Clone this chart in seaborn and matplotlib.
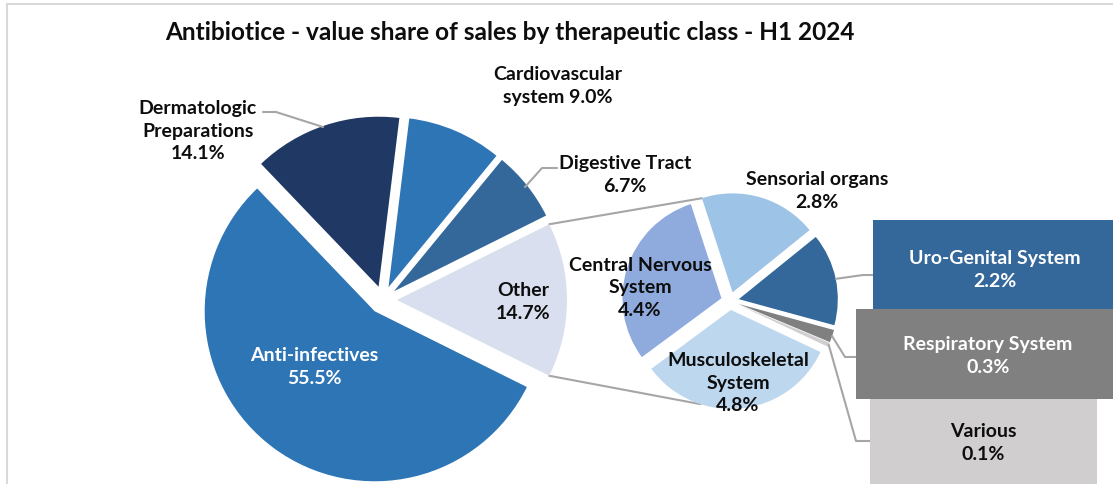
import numpy as np
import matplotlib
matplotlib.use("Agg")
import matplotlib.pyplot as plt
import seaborn as sns
from matplotlib.patches import Rectangle

# ---------------- data ----------------
title = "Antibiotice - value share of sales by therapeutic class - H1 2024"

main_names = ["Other", "Digestive Tract", "Cardiovascular\nsystem", "Dermatologic\nPreparations", "Anti-infectives"]
main_values = [14.7, 6.7, 9.0, 14.1, 55.5]
main_colors = ["#DADFEF", "#34679A", "#2E75B6", "#203864", "#2E75B6"]

sec_names = ["Sensorial organs", "Uro-Genital System", "Respiratory System", "Various",
             "Musculoskeletal\nSystem", "Central Nervous\nSystem"]
sec_values = [2.8, 2.2, 0.3, 0.1, 4.8, 4.4]
sec_colors = ["#9DC3E6", "#34679A", "#808080", "#D0CECE", "#BDD7EE", "#8FAADC"]

# ---------------- style ----------------
sns.set_theme(style="white")
plt.rcParams['font.family'] = ['Lato', 'DejaVu Sans']
plt.rcParams['font.weight'] = 'bold'

W, H = 1113, 484
fig = plt.figure(figsize=(W / 100, H / 100), dpi=100)
ax = fig.add_axes([0, 0, 1, 1])

def Y(y):
    return H - y

LBL = 14
LS = 1.4
TXT = "#0D0D0D"
LINE = "#A6A6A6"

# main pie
C1 = (383, Y(300))
R1 = 170
start1 = -main_values[0] / sum(main_values) * 360 / 2
w1, _ = ax.pie(main_values, colors=main_colors, startangle=start1, counterclock=True,
               center=C1, radius=R1, explode=[14] * len(main_values), frame=True,
               wedgeprops=dict(linewidth=0))

# secondary pie
C2 = (730, Y(301))
R2 = 99
w2, _ = ax.pie(sec_values, colors=sec_colors, startangle=108, counterclock=False,
               center=C2, radius=R2, explode=[9] * len(sec_values), frame=True,
               wedgeprops=dict(linewidth=0))

def arc_pt(w, ang):
    cx, cy = w.center
    a = np.deg2rad(ang)
    return cx + w.r * np.cos(a), cy + w.r * np.sin(a)

# connector lines between pies
other = w1[0]
p_top = arc_pt(other, other.theta2)
p_bot = arc_pt(other, other.theta1)
q_top = arc_pt(w2[0], w2[0].theta2)
q_bot = arc_pt(w2[4], -w2[0].theta2)
ax.plot([p_top[0], q_top[0]], [p_top[1], q_top[1]], color=LINE, lw=1.5, zorder=0)
ax.plot([p_bot[0], q_bot[0]], [p_bot[1], q_bot[1]], color=LINE, lw=1.5, zorder=0)

def lab(name, v):
    return f"{name}\n{v:.1f}%"

def put(x, y, s, c=TXT, z=3):
    ax.text(x, Y(y), s, color=c, fontsize=LBL, ha="center", va="center",
            linespacing=LS, zorder=z)

# main pie labels
put(314, 367, lab(main_names[4], main_values[4]), "white")
put(523, 302, lab(main_names[0], main_values[0]))
put(198, 131, lab(main_names[3], main_values[3]))
put(558, 86, f"{main_names[2]} {main_values[2]:.1f}%")
put(625, 175, lab(main_names[1], main_values[1]))

# leader lines main
ax.plot([263, 276, 323], [Y(112), Y(112), Y(127)], color=LINE, lw=1.5)
ax.plot([557, 542, 525], [Y(168), Y(168), Y(187)], color=LINE, lw=1.5)

# secondary labels
put(817, 191, lab(sec_names[0], sec_values[0]))
put(640, 288, lab(sec_names[5], sec_values[5]))
put(738, 383, lab(sec_names[4], sec_values[4]))

# boxed labels
boxes = [
    (1, (873, 220, 1113, 309), "white", (995, 270)),
    (2, (856, 309, 1113, 399), "white", (988, 356)),
    (3, (870, 399, 1097, 490), TXT, (983, 443)),
]
for idx, (x0, y0, x1, y1), tc, (tx, ty) in boxes:
    ax.add_patch(Rectangle((x0, Y(y1)), x1 - x0, y1 - y0, facecolor=sec_colors[idx],
                           edgecolor="none", zorder=2))
    put(tx, ty, lab(sec_names[idx], sec_values[idx]), tc)

# leader lines to boxes
def mid_pt(w):
    return arc_pt(w, (w.theta1 + w.theta2) / 2)

m = mid_pt(w2[1])
ax.plot([m[0], 863, 873], [m[1], Y(275), Y(275)], color=LINE, lw=1.5, zorder=1)
m = mid_pt(w2[2])
ax.plot([m[0], 845, 856], [m[1], Y(357), Y(357)], color=LINE, lw=1.5, zorder=1)
m = mid_pt(w2[3])
ax.plot([m[0], 856, 870], [m[1], Y(441), Y(441)], color=LINE, lw=1.5, zorder=1)

# title
ax.text(510, Y(32), title, color=TXT, fontsize=17.6, ha="center", va="center")

# chart frame (cropped at right/bottom)
ax.add_patch(Rectangle((6.5, -20), 1200, Y(3.5) + 20, facecolor="none",
                       edgecolor="#D9D9D9", lw=1.5, zorder=0))

ax.set_xlim(0, W)
ax.set_ylim(0, H)
ax.set_aspect("equal")
ax.axis("off")
fig.savefig("out.png", dpi=100)
